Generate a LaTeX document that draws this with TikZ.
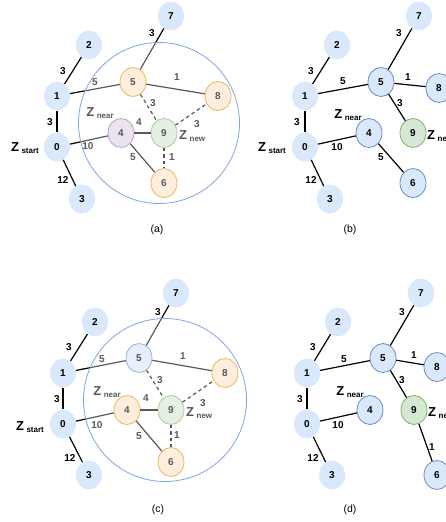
\documentclass[tikz,border=0pt]{standalone}
\usepackage{fontspec}
\setmainfont{Liberation Sans}
\usetikzlibrary{shapes.geometric}
\definecolor{bfill}{HTML}{DAE8FC}
\definecolor{bline}{HTML}{6C8EBF}
\definecolor{rline}{HTML}{7EA6E0}
\definecolor{ofill}{HTML}{FFE6CC}
\definecolor{oline}{HTML}{D79B00}
\definecolor{gfill}{HTML}{D5E8D4}
\definecolor{gline}{HTML}{82B366}
\definecolor{pfill}{HTML}{E1D5E7}
\definecolor{pline}{HTML}{9673A6}
\newcommand{\Zlab}[1]{{\fontsize{13}{14}\selectfont\bfseries Z}\hspace{2.5pt}\raisebox{-2pt}{\fontsize{8}{9}\selectfont\bfseries #1}}
\begin{document}
\begin{tikzpicture}[x=1pt,y=-1pt,
 vtx/.style={ellipse, minimum width=26pt, minimum height=29pt, inner sep=0pt, fill=bfill, font=\fontsize{10}{12}\selectfont\bfseries},
 bvtx/.style={vtx, draw=bline, line width=0.8pt},
 ovtx/.style={vtx, fill=ofill, draw=oline, line width=0.8pt},
 gvtx/.style={vtx, fill=gfill, draw=gline, line width=0.8pt},
 pvtx/.style={vtx, fill=pfill, draw=pline, line width=0.8pt},
 edge/.style={line width=1.2pt},
 dedge/.style={line width=1.2pt, dash pattern=on 3.5pt off 3pt},
 lab/.style={font=\fontsize{10}{12}\selectfont\bfseries, inner sep=0pt},
 zlab/.style={inner sep=0pt},
 capt/.style={font=\fontsize{10.5}{12}\selectfont},
 ring/.style={draw=rline, line width=0.8pt, fill=white, fill opacity=0.35},
]
\clip (0,0) rectangle (446,522);

% ---------------- (a)
\begin{scope}
\node[vtx] (a0) at (57,147) {0};
\node[vtx] (a1) at (57,96) {1};
\node[vtx] (a2) at (89,45) {2};
\node[vtx] (a3) at (82,199) {3};
\node[vtx] (a7) at (171,16) {7};
\node[ovtx] (a5) at (133,82) {5};
\node[ovtx] (a8) at (218,96) {8};
\node[pvtx] (a4) at (121,133) {4};
\node[gvtx] (a9) at (164,133) {9};
\node[ovtx] (a6) at (164,183) {6};
\draw[edge] (a1) -- (a2);
\draw[edge] (a7) -- (a5);
\draw[edge] (a1) -- (a5);
\draw[edge] (a5) -- (a8);
\draw[edge] (a1) -- (a0);
\draw[edge] (a0) -- (a4);
\draw[edge] (a0) -- (a3);
\draw[edge] (a4) -- (a9);
\draw[edge] (a4) -- (a6);
\draw[dedge] (a5) -- (a9);
\draw[dedge] (a9) -- (a8);
\draw[dedge] (a9) -- (a6);
\node[lab] (al12) at (63,71) {3};
\node[lab] (al75) at (152,33) {3};
\node[lab] (al15) at (95,82) {5};
\node[lab] (al58) at (177,77) {1};
\node[lab] (al10) at (50,122) {3};
\node[lab] (al04) at (88,146) {10};
\node[lab] (al03) at (63,180) {12};
\node[lab] (al59) at (153,103) {3};
\node[lab] (al49) at (139,122) {4};
\node[lab] (al98) at (197,124) {3};
\node[lab] (al46) at (133,157) {5};
\node[lab] (al96) at (172,157) {1};
\node[zlab] (azs) at (25,148) {\Zlab{start}};
\node[zlab] (azn) at (100,113) {\Zlab{near}};
\node[zlab, anchor=west] (azw) at (179,136) {\Zlab{new}};
\path[ring] (159,123) circle (80.5);
\node[capt] (acap) at (157,230) {(a)};
\end{scope}

% ---------------- (b)
\begin{scope}[shift={(248,0)}]
\node[vtx] (b0) at (57,147) {0};
\node[vtx] (b1) at (57,96) {1};
\node[vtx] (b2) at (89,45) {2};
\node[vtx] (b3) at (82,199) {3};
\node[vtx] (b7) at (171,16) {7};
\node[bvtx] (b5) at (133,82) {5};
\node[bvtx] (b8) at (191,88) {8};
\node[bvtx] (b4) at (121,133) {4};
\node[gvtx] (b9) at (165,133) {9};
\node[bvtx] (b6) at (165,183) {6};
\draw[edge] (b1) -- (b2);
\draw[edge] (b7) -- (b5);
\draw[edge] (b1) -- (b5);
\draw[edge] (b5) -- (b8);
\draw[edge] (b1) -- (b0);
\draw[edge] (b0) -- (b4);
\draw[edge] (b0) -- (b3);
\draw[edge] (b5) -- (b9);
\draw[edge] (b4) -- (b6);
\node[lab] (bl12) at (63,71) {3};
\node[lab] (bl75) at (151,33) {3};
\node[lab] (bl15) at (95,81) {5};
\node[lab] (bl58) at (160,77) {1};
\node[lab] (bl10) at (49,122) {3};
\node[lab] (bl04) at (89,147) {10};
\node[lab] (bl03) at (63,180) {12};
\node[lab] (bl59) at (152,103) {3};
\node[lab] (bl46) at (133,157) {5};
\node[zlab] (bzs) at (24,148) {\Zlab{start}};
\node[zlab] (bzn) at (100,115) {\Zlab{near}};
\node[zlab, anchor=west] (bzw) at (179,136) {\Zlab{new}};
\node[capt] (bcap) at (102,230) {(b)};
\end{scope}

% ---------------- (c)
\begin{scope}[shift={(6,277)}]
\node[vtx] (c0) at (57,147) {0};
\node[vtx] (c1) at (57,96) {1};
\node[vtx] (c2) at (89,45) {2};
\node[vtx] (c3) at (83,198) {3};
\node[vtx] (c7) at (170,16) {7};
\node[bvtx] (c5) at (133,81) {5};
\node[ovtx] (c8) at (219,96) {8};
\node[ovtx] (c4) at (121,133) {4};
\node[gvtx] (c9) at (165,133) {9};
\node[ovtx] (c6) at (165,185) {6};
\draw[edge] (c1) -- (c2);
\draw[edge] (c7) -- (c5);
\draw[edge] (c1) -- (c5);
\draw[edge] (c5) -- (c8);
\draw[edge] (c1) -- (c0);
\draw[edge] (c0) -- (c4);
\draw[edge] (c0) -- (c3);
\draw[edge] (c4) -- (c9);
\draw[edge] (c4) -- (c6);
\draw[dedge] (c5) -- (c9);
\draw[dedge] (c9) -- (c8);
\draw[dedge] (c9) -- (c6);
\node[lab] (cl12) at (63,70) {3};
\node[lab] (cl75) at (152,35) {3};
\node[lab] (cl15) at (96,82) {5};
\node[lab] (cl58) at (177,79) {1};
\node[lab] (cl10) at (51,122) {3};
\node[lab] (cl04) at (91,148) {10};
\node[lab] (cl03) at (64,181) {12};
\node[lab] (cl59) at (154,103) {3};
\node[lab] (cl49) at (140,121) {4};
\node[lab] (cl98) at (197,126) {3};
\node[lab] (cl46) at (133,159) {5};
\node[lab] (cl96) at (171,158) {1};
\node[zlab] (czs) at (24,150) {\Zlab{start}};
\node[zlab] (czn) at (101,115) {\Zlab{near}};
\node[zlab, anchor=west] (czw) at (180,136) {\Zlab{new}};
\path[ring] (159,123) circle (81.5);
\node[capt] (ccap) at (152,233) {(c)};
\end{scope}

% ---------------- (d)
\begin{scope}[shift={(250,277)}]
\node[vtx] (d0) at (57,147) {0};
\node[vtx] (d1) at (57,96) {1};
\node[vtx] (d2) at (88,45) {2};
\node[vtx] (d3) at (82,198) {3};
\node[vtx] (d7) at (171,16) {7};
\node[bvtx] (d5) at (133,81) {5};
\node[bvtx] (d8) at (187,90) {8};
\node[bvtx] (d4) at (120,133) {4};
\node[gvtx] (d9) at (164,133) {9};
\node[bvtx] (d6) at (187,198) {6};
\draw[edge] (d1) -- (d2);
\draw[edge] (d7) -- (d5);
\draw[edge] (d1) -- (d5);
\draw[edge] (d5) -- (d8);
\draw[edge] (d1) -- (d0);
\draw[edge] (d0) -- (d4);
\draw[edge] (d0) -- (d3);
\draw[edge] (d5) -- (d9);
\draw[edge] (d9) -- (d6);
\node[lab] (dl12) at (63,70) {3};
\node[lab] (dl75) at (152,35) {3};
\node[lab] (dl15) at (94,82) {5};
\node[lab] (dl58) at (164,78) {1};
\node[lab] (dl10) at (50,122) {3};
\node[lab] (dl04) at (88,148) {10};
\node[lab] (dl03) at (63,181) {12};
\node[lab] (dl59) at (152,103) {3};
\node[lab] (dl96) at (182,170) {1};
\node[zlab] (dzn) at (100,115) {\Zlab{near}};
\node[zlab, anchor=west] (dzw) at (178,136) {\Zlab{new}};
\node[capt] (dcap) at (100,233) {(d)};
\end{scope}
\end{tikzpicture}
\end{document}
